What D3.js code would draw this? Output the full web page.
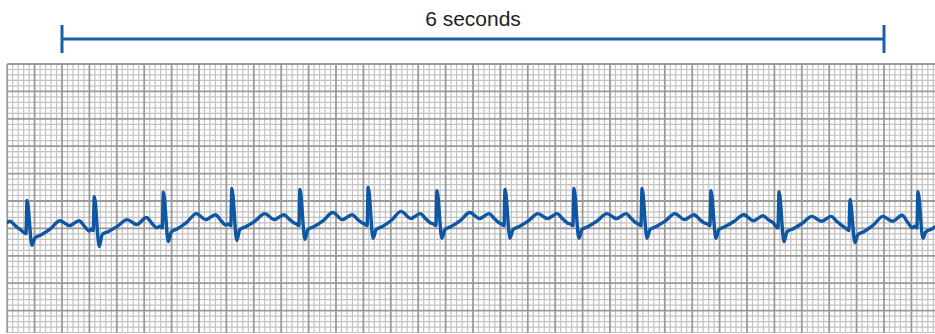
<!DOCTYPE html>
<html>
<head>
<meta charset="utf-8">
<script src="https://cdn.jsdelivr.net/npm/d3@7"></script>
<style>
  body { margin: 0; background: #fff; }
  svg { display: block; font-family: "Liberation Sans", Arial, sans-serif; }
</style>
</head>
<body>
<div id="chart"></div>
<script>
// rhythm strip, time in seconds, amplitude in mV (first beat sits just off the left edge)
const beatTimes  = [-0.36, 0.145, 0.636, 1.14, 1.64, 2.137, 2.635, 3.137, 3.634, 4.137, 4.634, 5.137, 5.634, 6.152, 6.648];
const rPeaks     = [0.60, 0.51, 0.58, 0.66, 0.73, 0.71, 0.75, 0.69, 0.71, 0.73, 0.73, 0.69, 0.67, 0.53, 0.67];
const sTroughs   = [-0.25, -0.31, -0.33, -0.24, -0.22, -0.20, -0.18, -0.18, -0.18, -0.18, -0.18, -0.18, -0.24, -0.26, -0.18];
const tPeaks     = [0.14, 0.14, 0.16, 0.27, 0.27, 0.29, 0.31, 0.29, 0.27, 0.27, 0.27, 0.25, 0.22, 0.22, 0.25];
const pPeaks     = [0.13, 0.14, 0.20, 0.25, 0.25, 0.25, 0.27, 0.27, 0.27, 0.27, 0.25, 0.23, 0.22, 0.24, 0.25];
const baseLevels = [-0.04, -0.07, -0.01, 0.04, 0.08, 0.08, 0.08, 0.08, 0.08, 0.08, 0.08, 0.08, 0.04, -0.01, 0.04];

// where each landmark of a beat sits, relative to its R wave (s)
const landmarks       = ["pre", "q", "r", "s", "j", "st", "preT", "t", "dip", "p", "pFall", "pEnd"];
const landmarkOffsets = [-0.025, -0.008, 0, 0.036, 0.058, 0.10, 0.17, 0.24, 0.31, 0.38, 0.42, 0.455];

const bracketSpan = [0.4, 6.4];
const bracketLabel = "6 seconds";

const width = 935, height = 334;

const x = d3.scaleLinear().domain([0, 6.8]).range([7.2, 7.2 + 6.8 * 137]);
const y = d3.scaleLinear().domain([3, -2]).range([64, 338]);

const svg = d3.select("#chart").append("svg")
    .attr("width", width)
    .attr("height", height);

svg.append("clipPath").attr("id", "paper")
  .append("rect")
    .attr("x", 6).attr("y", 63)
    .attr("width", width - 6).attr("height", 333 - 63);

const paper = svg.append("g").attr("clip-path", "url(#paper)");

// graph paper: small boxes 0.04 s x 0.1 mV, big boxes every 5
const vLines = d3.range(0, 171).map((k) => ({ v: k * 0.04, big: k % 5 === 0 }));
const hLines = d3.range(-20, 31).map((k) => ({ v: k / 10, big: k % 5 === 0 }));

const drawGrid = (big) => {
  paper.append("g").selectAll("line")
    .data(vLines.filter((d) => d.big === big)).join("line")
      .attr("x1", (d) => x(d.v)).attr("x2", (d) => x(d.v))
      .attr("y1", y(3)).attr("y2", y(-2))
      .attr("stroke", big ? "#9a9a9a" : "#c2c2c2")
      .attr("stroke-width", big ? 1.8 : 1.2);
  paper.append("g").selectAll("line")
    .data(hLines.filter((d) => d.big === big)).join("line")
      .attr("x1", x(0)).attr("x2", x(6.8))
      .attr("y1", (d) => y(d.v)).attr("y2", (d) => y(d.v))
      .attr("stroke", big ? "#9a9a9a" : "#c2c2c2")
      .attr("stroke-width", big ? 1.8 : 1.2);
};
drawGrid(false);
drawGrid(true);

// build the trace from the per-beat readings
const levelAt = (name, i) => {
  const base = baseLevels[i];
  switch (name) {
    case "pre": return base;
    case "q": return base - 0.03;
    case "r": return rPeaks[i];
    case "s": return sTroughs[i];
    case "j": return base - 0.1;
    case "st": return base - 0.05;
    case "preT": return base + 0.3 * (tPeaks[i] - base);
    case "t": return tPeaks[i];
    case "dip": return Math.min(tPeaks[i], pPeaks[i]) - 0.09;
    case "p": return pPeaks[i];
    case "pFall": return (pPeaks[i] + base) / 2;
    case "pEnd": return base + 0.02;
  }
};

const trace = [];
beatTimes.forEach((t0, i) => {
  landmarks.forEach((name, j) => {
    trace.push({ t: t0 + landmarkOffsets[j], mv: levelAt(name, i) });
  });
});

const line = d3.line()
    .x((d) => x(d.t))
    .y((d) => y(d.mv))
    .curve(d3.curveMonotoneX);

svg.append("clipPath").attr("id", "strip")
  .append("rect")
    .attr("x", 7).attr("y", 0)
    .attr("width", width - 7).attr("height", height);

svg.append("path")
    .datum(trace)
    .attr("clip-path", "url(#strip)")
    .attr("fill", "none")
    .attr("stroke", "#0f56a3")
    .attr("stroke-width", 3.4)
    .attr("stroke-linejoin", "round")
    .attr("d", line);

// duration bracket
const bracket = svg.append("g")
    .attr("stroke", "#1a5fab")
    .attr("stroke-width", 3);
bracket.append("line")
    .attr("x1", x(bracketSpan[0])).attr("x2", x(bracketSpan[1]))
    .attr("y1", 39).attr("y2", 39);
bracket.selectAll(".tick").data(bracketSpan).join("line")
    .attr("class", "tick")
    .attr("x1", (d) => x(d)).attr("x2", (d) => x(d))
    .attr("y1", 25).attr("y2", 53);

svg.append("text")
    .attr("x", x((bracketSpan[0] + bracketSpan[1]) / 2))
    .attr("y", 26)
    .attr("text-anchor", "middle")
    .attr("font-size", 21)
    .attr("fill", "#222")
    .text(bracketLabel);
</script>
</body>
</html>
